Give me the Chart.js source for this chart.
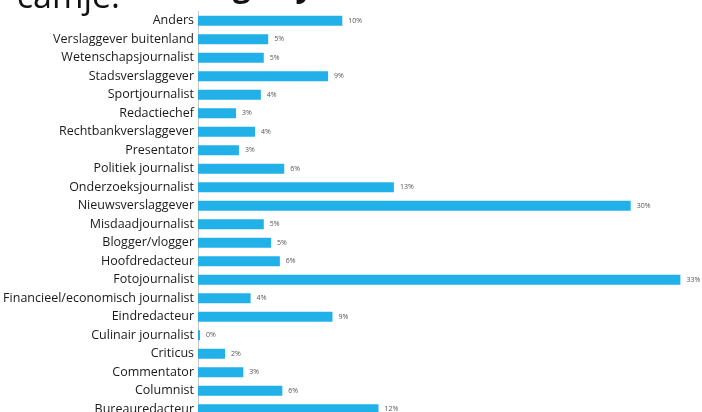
<!DOCTYPE html>
<html>
<head>
<meta charset="utf-8">
<script src="https://cdn.jsdelivr.net/npm/chart.js@4"></script>
<style>
  html, body { margin: 0; padding: 0; background: #fff; overflow: hidden; }
  #wrap { position: relative; width: 702px; height: 412px; overflow: hidden; }
  #jobChart { position: absolute; left: 0; top: 0; }
  .slide { position: absolute; font-family: 'Open Sans', sans-serif; color: #111; white-space: nowrap; line-height: 1; }
  #t1 { left: -6px; top: -22px; font-size: 34px; }
  #t2 { left: 202px; top: -32px; font-size: 32px; font-weight: bold; word-spacing: 16px; }
</style>
</head>
<body>
<div id="wrap">
  <canvas id="jobChart" width="702" height="430"></canvas>
  <div class="slide" id="t1">r camje.</div>
  <div class="slide" id="t2">ing by</div>
</div>
<script>
// Beroepen en aandeel (%)
const categories = [
  'Anders', 'Verslaggever buitenland', 'Wetenschapsjournalist', 'Stadsverslaggever',
  'Sportjournalist', 'Redactiechef', 'Rechtbankverslaggever', 'Presentator',
  'Politiek journalist', 'Onderzoeksjournalist', 'Nieuwsverslaggever', 'Misdaadjournalist',
  'Blogger/vlogger', 'Hoofdredacteur', 'Fotojournalist', 'Financieel/economisch journalist',
  'Eindredacteur', 'Culinair journalist', 'Criticus', 'Commentator', 'Columnist', 'Bureauredacteur'
];
const shares = [
  9.87, 4.8, 4.5, 8.9,
  4.3, 2.6, 3.9, 2.8,
  5.9, 13.4, 29.6, 4.5,
  5.0, 5.6, 33.0, 3.6,
  9.2, 0.14, 1.85, 3.1, 5.77, 12.35
];
const shareLabels = shares.map(v => Math.round(v) + '%');

// small value labels right of each bar
const barValues = {
  id: 'barValues',
  afterDatasetsDraw(chart) {
    const ctx = chart.ctx;
    const meta = chart.getDatasetMeta(0);
    ctx.save();
    ctx.font = '7px "Open Sans", sans-serif';
    ctx.fillStyle = '#555';
    ctx.textBaseline = 'middle';
    meta.data.forEach((bar, i) => {
      ctx.fillText(shareLabels[i], bar.x + 6, bar.y);
    });
    ctx.restore();
  }
};

const ctx = document.getElementById('jobChart').getContext('2d');
new Chart(ctx, {
  type: 'bar',
  data: {
    labels: categories,
    datasets: [{
      data: shares,
      backgroundColor: '#22b0e8',
      barPercentage: 0.55,
      categoryPercentage: 1
    }]
  },
  options: {
    indexAxis: 'y',
    responsive: false,
    animation: false,
    layout: { padding: { top: 10.75, right: 7, left: 0, bottom: 2.5 } },
    plugins: { legend: { display: false }, tooltip: { enabled: false } },
    scales: {
      x: { display: false, min: 0, max: 34 },
      y: {
        grid: { display: false, drawTicks: false },
        border: { display: true, color: '#c8c8c8' },
        ticks: {
          color: '#1a1a1a',
          padding: 4,
          font: { family: 'Open Sans', size: 12.5 }
        },
        afterFit(scale) { scale.width = 198; }
      }
    }
  },
  plugins: [barValues]
});
</script>
</body>
</html>
